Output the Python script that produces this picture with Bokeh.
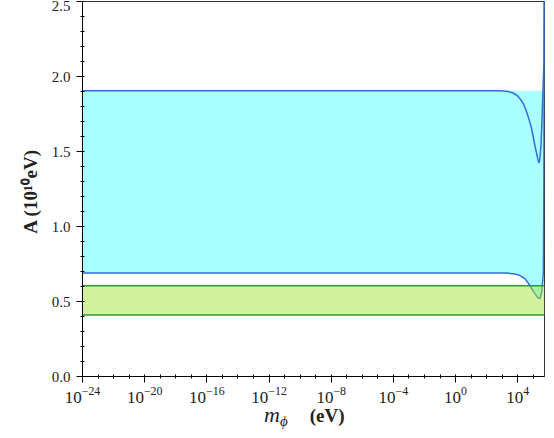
from bokeh.plotting import figure
from bokeh.layouts import column
from bokeh.models import Range1d, FixedTicker, SingleIntervalTicker, NumeralTickFormatter, Div
from bokeh.embed import file_html
from bokeh.resources import INLINE

# Allowed region for A versus the scalar mass m_phi (log10 of eV)
upper_log_m = [-24, 2.8, 3.3, 3.7, 3.94, 4.2, 4.36, 4.55, 4.68, 4.85, 5.0, 5.12,
               5.22, 5.30, 5.36, 5.42, 5.5, 5.58, 5.65, 5.69, 5.71]
upper_A = [1.905, 1.905, 1.902, 1.89, 1.875, 1.845, 1.818, 1.77, 1.729, 1.67, 1.595, 1.53,
           1.485, 1.445, 1.425, 1.45, 1.551, 1.773, 1.995, 2.107, 2.6]

lower_log_m = [-24, 3.29, 3.8, 4.15, 4.47, 4.68, 4.90, 5.11, 5.32, 5.43, 5.54,
               5.61, 5.65, 5.68, 5.71]
lower_A = [0.69, 0.69, 0.684, 0.673, 0.651, 0.622, 0.585, 0.551, 0.522, 0.522, 0.562,
           0.64, 0.707, 1.3, 2.6]

# upper edge of the shaded blue region
blue_fill_top = 1.905

# second (green) band
green_log_m = [-24, 5.72]
green_low = [0.41, 0.41]
green_high = [0.605, 0.605]

x_log_limits = [-24, 5.72]
y_limits = [0.0, 2.5]
major_exponents = [-24, -20, -16, -12, -8, -4, 0, 4]
minor_exponents = list(range(-24, 6))

upper_m = [10.0 ** e for e in upper_log_m]
lower_m = [10.0 ** e for e in lower_log_m]
green_m = [10.0 ** e for e in green_log_m]

SERIF = "Liberation Serif"

p = figure(width=554, height=438, x_axis_type="log",
           x_range=Range1d(10.0 ** x_log_limits[0], 10.0 ** x_log_limits[1]),
           y_range=Range1d(*y_limits),
           output_backend="svg", toolbar_location=None,
           min_border_left=82, min_border_right=10, min_border_top=1, min_border_bottom=62)

p.background_fill_color = "white"
p.border_fill_color = "white"
p.outline_line_color = "#333333"
p.outline_line_width = 1
p.xgrid.visible = False
p.ygrid.visible = False

# blue region
p.varea(x=lower_m, y1=lower_A, y2=[blue_fill_top] * len(lower_m), fill_color="#aaffff")
p.line(upper_m, upper_A, line_color="#2f6fd8", line_width=1.5)
p.line(lower_m, lower_A, line_color="#2f6fd8", line_width=1.5)

# green band drawn over it
p.varea(x=green_m, y1=green_low, y2=green_high, fill_color="#aae43c", fill_alpha=0.5)
p.line(green_m, green_high, line_color="#2e9a2e", line_width=1.5)
p.line(green_m, green_low, line_color="#2e9a2e", line_width=1.5)

# axes
xa = p.xaxis[0]
xa.ticker = FixedTicker(ticks=[10.0 ** e for e in major_exponents],
                        minor_ticks=[10.0 ** e for e in minor_exponents])
ya = p.yaxis[0]
ya.ticker = SingleIntervalTicker(interval=0.5, num_minor_ticks=5)
ya.formatter = NumeralTickFormatter(format="0.0")

for ax in (xa, ya):
    ax.axis_line_color = "black"
    ax.major_tick_line_color = "black"
    ax.minor_tick_line_color = "black"
    ax.major_tick_in = 0
    ax.major_tick_out = 6
    ax.minor_tick_in = 2
    ax.minor_tick_out = 2
    ax.major_label_text_font = SERIF
    ax.major_label_text_color = "#222222"
    ax.major_label_standoff = 6
xa.major_label_text_font_size = "17px"
xa.major_label_standoff = 4
ya.major_label_text_font_size = "15px"

ya.axis_label = "A  (10\u00b9\u2070eV)"
ya.axis_label_text_font = SERIF
ya.axis_label_text_font_size = "19px"
ya.axis_label_text_font_style = "bold"
ya.axis_label_text_color = "#222222"
ya.axis_label_standoff = 8

# x-axis title: italic m with subscript phi, then the unit
x_title = Div(
    text=("<span style=\"font-style:italic;font-size:22px\">m</span>"
          "<span style=\"font-style:italic;font-size:15px;position:relative;top:4px\">\u03d5</span>"
          "<span style=\"font-weight:bold;font-size:19px;margin-left:22px\">(eV)</span>"),
    width=554, height=36, margin=(-36, 0, 0, 0),
    styles={"font-family": "'Liberation Serif', serif", "color": "#222222",
            "padding-left": "264px", "padding-top": "2px", "line-height": "22px",
            "white-space": "nowrap"},
)

layout = column(p, x_title, spacing=0)
open("out.html", "w").write(file_html(layout, INLINE))
